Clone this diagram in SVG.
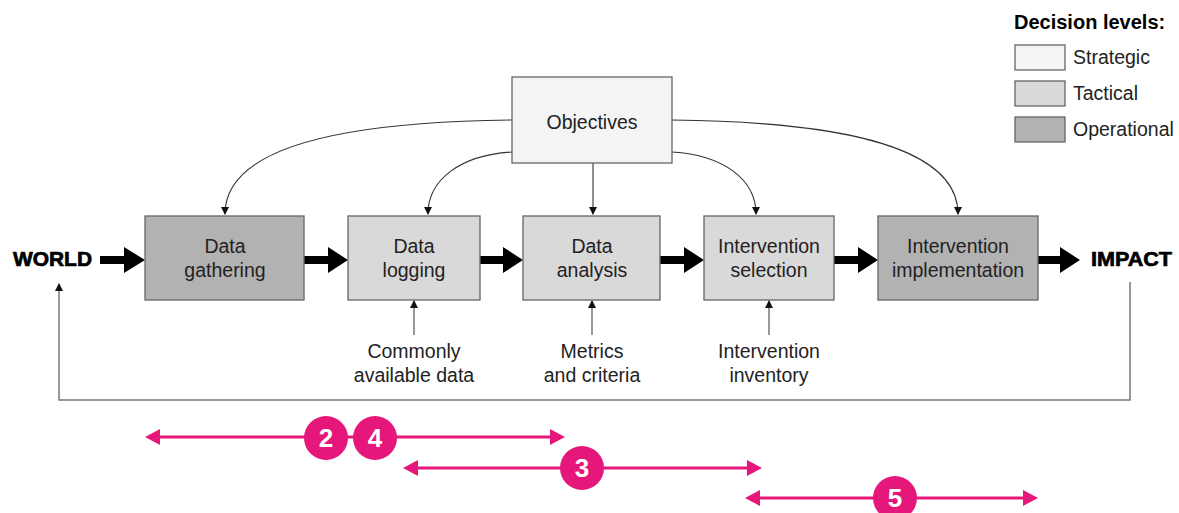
<svg xmlns="http://www.w3.org/2000/svg" width="1179" height="513" viewBox="0 0 1179 513">
<style>
.t{font-family:"Liberation Sans",Arial,sans-serif;font-size:19.5px;fill:#222;text-anchor:middle}
.b{font-family:"Liberation Sans",Arial,sans-serif;font-size:21px;font-weight:bold;fill:#000;stroke:#000;stroke-width:0.7}
.lg{font-family:"Liberation Sans",Arial,sans-serif;font-size:20px;font-weight:bold;fill:#000}
.n{font-family:"Liberation Sans",Arial,sans-serif;font-size:26px;font-weight:bold;fill:#fff;text-anchor:middle}
.box{stroke:#666;stroke-width:1.3}
.s{fill:#f4f4f4}.ta{fill:#d9d9d9}.o{fill:#b2b2b2}
.c{fill:none;stroke:#333;stroke-width:1.1}
.g{fill:none;stroke:#777;stroke-width:1.5}
.fat{fill:#000}
.pk{stroke:#e5177b;stroke-width:3;fill:none}
.pf{fill:#e5177b}
</style>
<defs>
<marker id="ah" markerWidth="8" markerHeight="8" refX="7" refY="4" orient="auto" markerUnits="userSpaceOnUse"><path d="M0,0 L8,4 L0,8 Z" fill="#111"/></marker>
</defs>
<rect width="1179" height="513" fill="#fff"/>

<g id="legend">
<text class="lg" x="1014" y="29">Decision levels:</text>
<rect class="box s" x="1015" y="45" width="50" height="25"/>
<rect class="box ta" x="1015" y="81" width="50" height="25"/>
<rect class="box o" x="1015" y="117" width="50" height="25"/>
<text class="t" x="1073" y="64" style="text-anchor:start">Strategic</text>
<text class="t" x="1073" y="100" style="text-anchor:start">Tactical</text>
<text class="t" x="1073" y="136" style="text-anchor:start">Operational</text>
</g>

<g id="connectors">
<path class="c" d="M512,120 C330,122 225,150 225,214" marker-end="url(#ah)"/>
<path class="c" d="M512,152 C460,155 428,180 428,214" marker-end="url(#ah)"/>
<path class="c" d="M593,163 L593,214" marker-end="url(#ah)"/>
<path class="c" d="M672,152 C724,155 756,180 756,214" marker-end="url(#ah)"/>
<path class="c" d="M672,120 C854,122 958,150 958,214" marker-end="url(#ah)"/>
<path class="g" d="M414,335 L414,301" marker-end="url(#ah)"/>
<path class="g" d="M592,335 L592,301" marker-end="url(#ah)"/>
<path class="g" d="M769,335 L769,301" marker-end="url(#ah)"/>
<path class="g" d="M1130,282 L1130,400 L59,400 L59,284" marker-end="url(#ah)"/>
<path class="fat" d="M100,256 H124 V247 L145,260 L124,273 V264 H100 Z"/>
<path class="fat" d="M304,256 H328 V247 L348,260 L328,273 V264 H304 Z"/>
<path class="fat" d="M480,256 H503 V247 L523,260 L503,273 V264 H480 Z"/>
<path class="fat" d="M660,256 H684 V247 L704,260 L684,273 V264 H660 Z"/>
<path class="fat" d="M834,256 H858 V247 L878,260 L858,273 V264 H834 Z"/>
<path class="fat" d="M1038,256 H1060 V247 L1080,260 L1060,273 V264 H1038 Z"/>
</g>

<g id="objectives"><rect class="box s" x="512" y="77" width="160" height="86"/><text class="t" x="592" y="129">Objectives</text></g>
<g id="world"><text class="b" x="13" y="266" textLength="79" lengthAdjust="spacingAndGlyphs">WORLD</text></g>
<g id="impact"><text class="b" x="1091" y="266" textLength="81" lengthAdjust="spacingAndGlyphs">IMPACT</text></g>
<g id="data-gathering"><rect class="box o" x="145" y="216" width="159" height="84"/><text class="t" x="225" y="253">Data</text><text class="t" x="225" y="277">gathering</text></g>
<g id="data-logging"><rect class="box ta" x="348" y="216" width="132" height="84"/><text class="t" x="414" y="253">Data</text><text class="t" x="414" y="277">logging</text></g>
<g id="data-analysis"><rect class="box ta" x="523" y="216" width="137" height="84"/><text class="t" x="592" y="253">Data</text><text class="t" x="592" y="277">analysis</text></g>
<g id="intervention-selection"><rect class="box ta" x="704" y="216" width="130" height="84"/><text class="t" x="769" y="253">Intervention</text><text class="t" x="769" y="277">selection</text></g>
<g id="intervention-implementation"><rect class="box o" x="878" y="216" width="160" height="84"/><text class="t" x="958" y="253">Intervention</text><text class="t" x="958" y="277">implementation</text></g>

<g id="input-commonly"><text class="t" x="414" y="358">Commonly</text><text class="t" x="414" y="382">available data</text></g>
<g id="input-metrics"><text class="t" x="592" y="358">Metrics</text><text class="t" x="592" y="382">and criteria</text></g>
<g id="input-inventory"><text class="t" x="769" y="358">Intervention</text><text class="t" x="769" y="382">inventory</text></g>

<g id="range-2-4">
<path class="pk" d="M158,437 H552"/>
<path class="pf" d="M145,437 L160,429 L160,445 Z"/>
<path class="pf" d="M565,437 L550,429 L550,445 Z"/>
<circle class="pf" cx="326" cy="438" r="22"/>
<circle class="pf" cx="375" cy="438" r="22"/>
<text class="n" x="326" y="447">2</text>
<text class="n" x="375" y="447">4</text>
</g>
<g id="range-3">
<path class="pk" d="M416,468 H749"/>
<path class="pf" d="M403,468 L418,460 L418,476 Z"/>
<path class="pf" d="M762,468 L747,460 L747,476 Z"/>
<circle class="pf" cx="582" cy="468" r="22"/>
<text class="n" x="582" y="477">3</text>
</g>
<g id="range-5">
<path class="pk" d="M758,498 H1025"/>
<path class="pf" d="M745,498 L760,490 L760,506 Z"/>
<path class="pf" d="M1038,498 L1023,490 L1023,506 Z"/>
<circle class="pf" cx="895" cy="498" r="22"/>
<text class="n" x="895" y="507">5</text>
</g>
</svg>
